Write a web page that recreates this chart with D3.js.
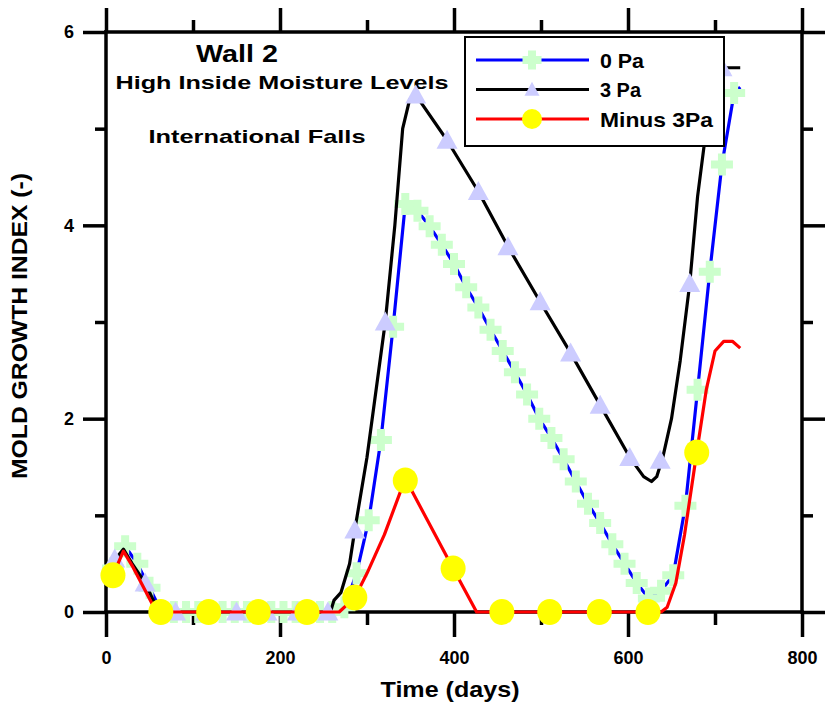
<!DOCTYPE html>
<html><head><meta charset="utf-8">
<script src="https://cdn.jsdelivr.net/npm/d3@7/dist/d3.min.js"></script>
<style>
html,body{margin:0;padding:0;background:#fff;}
svg{display:block;}
text{font-family:"Liberation Sans",Arial,sans-serif;font-weight:bold;fill:#000;}
</style></head>
<body>
<svg id="chart" width="825" height="706"></svg>
<script>
// ---------- DATA ----------
const xTicks = [0, 200, 400, 600, 800];
const xMinor = [100, 300, 500, 700];
const yTicks = [0, 2, 4, 6];
const yMinor = [1, 3, 5];
const seriesNames = ["0 Pa", "3 Pa", "Minus 3Pa"];

// 0 Pa (blue line, green cross markers every ~14 days)
const blueDays = [8,22,36,50,64,78,92,106,120,134,148,162,176,190,204,218,232,246,260,274,288,302,316,330,344,358,372,386,400,414,428,442,456,470,484,498,512,526,540,554,568,582,596,610,624,638,652,666,680,694,708,722,729];
const blueVals = [0.45,0.68,0.5,0.25,0,0,0,0,0,0,0,0,0,0,0,0,0,0,0,0.05,0.4,0.95,1.78,2.95,4.22,4.15,3.99,3.8,3.6,3.36,3.15,2.92,2.7,2.48,2.25,2.0,1.8,1.58,1.35,1.12,0.92,0.7,0.5,0.3,0.14,0.22,0.38,1.1,2.3,3.52,4.63,5.37,5.43];

// 3 Pa (black line)
const blackDays = [8,20,30,45,58,62,258,262,270,280,286,300,321,332,341,349,356,392,428,462,499,534,568,602,618,627,633,640,650,660,671,680,690,700,708,729];
const blackVals = [0.52,0.65,0.5,0.3,0.05,0,0,0.12,0.2,0.5,0.85,1.6,3.0,4.0,5.0,5.3,5.35,4.88,4.35,3.78,3.21,2.68,2.14,1.6,1.4,1.35,1.4,1.6,2.0,2.6,3.4,4.3,5.0,5.4,5.63,5.63];
// triangle markers (every ~35 days)
const triDays = [10,45,80,115,150,185,220,255,286,321,356,392,428,462,499,534,568,602,637,671,708];
const triVals = [0.55,0.3,0,0,0,0,0,0,0.85,3.0,5.35,4.88,4.35,3.78,3.21,2.68,2.14,1.6,1.57,3.4,5.63];

// Minus 3Pa (red line)
const redDays = [8,20,30,58,268,280,286,300,320,344,399,426,638,645,655,665,679,690,700,710,720,729];
const redVals = [0.38,0.63,0.48,0,0,0.1,0.15,0.4,0.8,1.38,0.45,0,0,0.05,0.3,0.8,1.65,2.3,2.7,2.8,2.8,2.73];
// circle markers (every ~56 days)
const circDays = [8,63,118,175,231,286,344,399,455,510,567,623,679];
const circVals = [0.38,0,0,0,0,0.15,1.36,0.45,0,0,0,0,1.65];

// ---------- LAYOUT ----------
const svg = d3.select("#chart");
const L = 106, R = 802, T = 32, B = 612;
const x = d3.scaleLinear().domain([0, 800]).range([L, R]);
const y = d3.scaleLinear().domain([0, 6]).range([B, T]);

const AX = 3.5;
function styleAxis(g){
  g.select(".domain").remove();
  g.selectAll(".tick line").attr("stroke","#000").attr("stroke-width",AX);
}
// frame lines
svg.append("g").selectAll("line").data([
  [L,T,R,T],[L,B,R,B],[L,T,L,B],[R,T,R,B]
]).join("line").attr("x1",d=>d[0]).attr("y1",d=>d[1]).attr("x2",d=>d[2]).attr("y2",d=>d[3])
  .attr("stroke","#000").attr("stroke-width",AX).attr("stroke-linecap","square");

// bottom
svg.append("g").attr("transform",`translate(0,${B})`)
  .call(d3.axisBottom(x).tickValues(xTicks).tickSize(25).tickPadding(14).tickFormat(d3.format("d")))
  .call(styleAxis)
  .call(g=>g.selectAll("text").attr("font-size",18).attr("font-family","Liberation Sans, Arial, sans-serif").attr("font-weight","bold"));
svg.append("g").attr("transform",`translate(0,${B})`)
  .call(d3.axisBottom(x).tickValues(xMinor).tickSize(13).tickFormat(""))
  .call(styleAxis);
// top
svg.append("g").attr("transform",`translate(0,${T})`)
  .call(d3.axisTop(x).tickValues(xTicks).tickSize(24).tickFormat(""))
  .call(styleAxis);
svg.append("g").attr("transform",`translate(0,${T})`)
  .call(d3.axisTop(x).tickValues(xMinor).tickSize(12).tickFormat(""))
  .call(styleAxis);
// left
svg.append("g").attr("transform",`translate(${L},0)`)
  .call(d3.axisLeft(y).tickValues(yTicks).tickSize(23).tickPadding(9).tickFormat(d3.format("d")))
  .call(styleAxis)
  .call(g=>g.selectAll("text").attr("font-size",18).attr("font-family","Liberation Sans, Arial, sans-serif").attr("font-weight","bold"));
svg.append("g").attr("transform",`translate(${L},0)`)
  .call(d3.axisLeft(y).tickValues(yMinor).tickSize(11).tickFormat(""))
  .call(styleAxis);
// right
svg.append("g").attr("transform",`translate(${R},0)`)
  .call(d3.axisRight(y).tickValues(yTicks).tickSize(23).tickFormat(""))
  .call(styleAxis);
svg.append("g").attr("transform",`translate(${R},0)`)
  .call(d3.axisRight(y).tickValues(yMinor).tickSize(11).tickFormat(""))
  .call(styleAxis);

// axis titles
svg.append("text").attr("x",450).attr("y",697).attr("text-anchor","middle")
  .attr("font-size",22).attr("textLength",139).attr("lengthAdjust","spacingAndGlyphs").text("Time (days)");
svg.append("text").attr("transform","translate(27,326) rotate(-90)").attr("text-anchor","middle")
  .attr("font-size",22).attr("textLength",306).attr("lengthAdjust","spacingAndGlyphs").text("MOLD GROWTH INDEX (-)");

// annotations
svg.append("text").attr("x",237).attr("y",62).attr("text-anchor","middle")
  .attr("font-size",24).attr("textLength",82).attr("lengthAdjust","spacingAndGlyphs").text("Wall 2");
svg.append("text").attr("x",282).attr("y",89).attr("text-anchor","middle")
  .attr("font-size",19).attr("textLength",333).attr("lengthAdjust","spacingAndGlyphs").text("High Inside Moisture Levels");
svg.append("text").attr("x",257).attr("y",143).attr("text-anchor","middle")
  .attr("font-size",19).attr("textLength",217).attr("lengthAdjust","spacingAndGlyphs").text("International Falls");

// ---------- MARKS ----------
const plot = svg.append("g");
const line = d3.line().x(d=>x(d[0])).y(d=>y(d[1]));
const zip = (a,b)=>a.map((v,i)=>[v,b[i]]);

function crossPath(s, t){ const a=s/2, b=t/2;
  return `M${-b},${-a}H${b}V${-b}H${a}V${b}H${b}V${a}H${-b}V${b}H${-a}V${-b}H${-b}Z`; }
function triPath(w, h){ return `M0,${-h*0.55}L${w/2},${h*0.45}L${-w/2},${h*0.45}Z`; }

plot.append("path").datum(zip(blueDays,blueVals)).attr("d",line)
  .attr("fill","none").attr("stroke","#0000ff").attr("stroke-width",3.2).attr("stroke-linejoin","round");
plot.append("g").selectAll("path").data(zip(blueDays.slice(0,-1),blueVals.slice(0,-1))).join("path")
  .attr("transform",d=>`translate(${x(d[0])},${y(d[1])})`).attr("d",crossPath(22,8)).attr("fill","#ccffcc");

plot.append("path").datum(zip(blackDays,blackVals)).attr("d",line)
  .attr("fill","none").attr("stroke","#000").attr("stroke-width",3.2).attr("stroke-linejoin","round");
plot.append("g").selectAll("path").data(zip(triDays,triVals)).join("path")
  .attr("transform",d=>`translate(${x(d[0])},${y(d[1])})`).attr("d",triPath(21,19)).attr("fill","#ccccff");

plot.append("path").datum(zip(redDays,redVals)).attr("d",line)
  .attr("fill","none").attr("stroke","#ff0000").attr("stroke-width",3.2).attr("stroke-linejoin","round");
plot.append("g").selectAll("ellipse").data(zip(circDays,circVals)).join("ellipse")
  .attr("cx",d=>x(d[0])).attr("cy",d=>y(d[1])).attr("rx",12.5).attr("ry",13).attr("fill","#ffff00");

// ---------- LEGEND ----------
const lg = svg.append("g");
lg.append("rect").attr("x",465).attr("y",37).attr("width",259).attr("height",109)
  .attr("fill","#fff").attr("stroke","#000").attr("stroke-width",2);
const lgColors = ["#0000ff","#000","#ff0000"];
const lgW = [44,41,113];
seriesNames.forEach((nm,i)=>{
  const yy = 60 + i*29.5;
  lg.append("line").attr("x1",476).attr("x2",589).attr("y1",yy).attr("y2",yy)
    .attr("stroke",lgColors[i]).attr("stroke-width",3);
  const m = lg.append("g").attr("transform",`translate(532,${yy})`);
  if(i===0) m.append("path").attr("d",crossPath(19,8)).attr("fill","#ccffcc");
  if(i===1) m.append("path").attr("d",triPath(15,14)).attr("fill","#ccccff");
  if(i===2) m.append("circle").attr("r",10).attr("fill","#ffff00");
  lg.append("text").attr("x",600).attr("y",yy+7.5).attr("font-size",21)
    .attr("textLength",lgW[i]).attr("lengthAdjust","spacingAndGlyphs").text(nm);
});
</script>
</body></html>
